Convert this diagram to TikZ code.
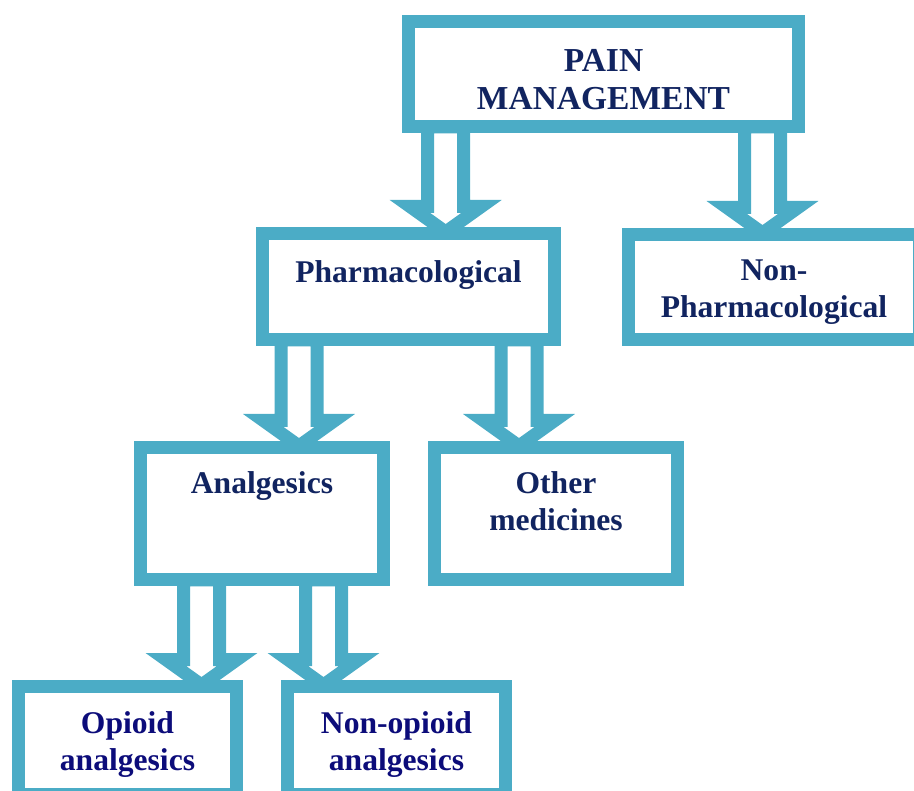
\documentclass[tikz,border=0pt]{standalone}
\usepackage{fontspec}
\setmainfont{Liberation Serif}
\usepackage{tikz}
\usetikzlibrary{calc,positioning}
\definecolor{pmcyan}{RGB}{75,172,198}
\definecolor{pmnavy}{RGB}{17,36,96}
\definecolor{pmblue}{RGB}{12,12,122}
\tikzstyle{box} = [rectangle, draw=pmcyan, line width=13pt, fill=white, inner sep=0pt]
\tikzstyle{boxtext} = [inner sep=0pt, align=center, text=pmnavy, font=\fontsize{31.6}{37}\selectfont\bfseries]
\tikzstyle{blockarr} = [draw=pmcyan, line width=13pt, fill=white, line join=miter]
% hollow block arrow at x=#1 from node #2 down to node #3
\newcommand{\blockarrow}[3]{%
  \draw[blockarr] ($(#1,0 |- #2.south)+(-18,-6)$) -- ($(#1,0 |- #3.north)+(-18,-20.5)$)
    -- ($(#1,0 |- #3.north)+(-35.7,-20.5)$) -- ($(#1,0 |- #3.north)+(0,5)$)
    -- ($(#1,0 |- #3.north)+(35.7,-20.5)$) -- ($(#1,0 |- #3.north)+(18,-20.5)$)
    -- ($(#1,0 |- #2.south)+(18,-6)$) -- cycle;}

\begin{document}
\begin{tikzpicture}[x=1pt, y=-1pt]
    \clip (0,0) rectangle (914,791);

    % Boxes
    \node[box, minimum width=390pt, minimum height=105pt] (pain) at (603.5,74) {};
    \node[box, minimum width=292pt, minimum height=106pt] (pharm) at (408.5,286.5) {};
    \node[box, minimum width=291pt, minimum height=105pt] (nonpharm) at (774,287) {};
    \node[box, minimum width=243pt, minimum height=132pt] (analg) at (262,513.5) {};
    \node[box, minimum width=243pt, minimum height=132pt] (other) at (556,513.5) {};
    \node[box, minimum width=218pt, minimum height=108pt] (opioid) at (127.5,740.5) {};
    \node[box, minimum width=218pt, minimum height=108pt] (nonopioid) at (396.5,740.5) {};

    % Texts
    \node[boxtext, font=\fontsize{33.5}{38}\selectfont\bfseries, below=34pt of pain.north] (pain-t) {PAIN\\MANAGEMENT};
    \node[boxtext, below=33.8pt of pharm.north] (pharm-t) {Pharmacological};
    \node[boxtext, below=31.5pt of nonpharm.north] (nonpharm-t) {Non-\\Pharmacological};
    \node[boxtext, below=30.5pt of analg.north] (analg-t) {Analgesics};
    \node[boxtext, below=30.2pt of other.north] (other-t) {Other\\medicines};
    \node[boxtext, text=pmblue, below=31.2pt of opioid.north] (opioid-t) {Opioid\\analgesics};
    \node[boxtext, text=pmblue, below=31.6pt of nonopioid.north] (nonopioid-t) {Non-opioid\\analgesics};

    % Block arrows
    \blockarrow{445.7}{pain}{pharm}
    \blockarrow{762.5}{pain}{nonpharm}
    \blockarrow{299}{pharm}{analg}
    \blockarrow{519}{pharm}{other}
    \blockarrow{201.5}{analg}{opioid}
    \blockarrow{323.5}{analg}{nonopioid}
\end{tikzpicture}
\end{document}
